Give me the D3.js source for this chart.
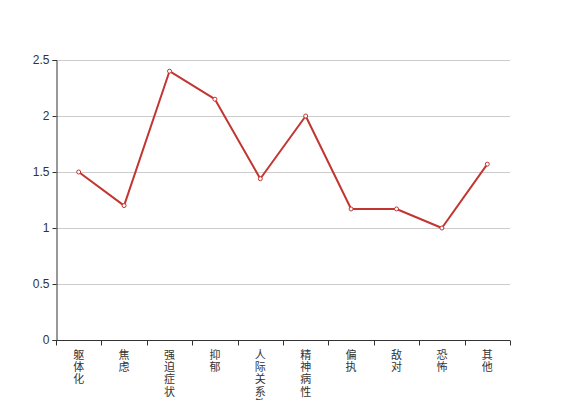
<!DOCTYPE html>
<html><head><meta charset="utf-8">
<script src="https://cdn.jsdelivr.net/npm/d3@7/dist/d3.min.js"></script>
<style>body{margin:0;background:#fff}svg{display:block}</style>
</head><body>
<script>
const categories = ["躯体化","焦虑","强迫症状","抑郁","人际关系敏感","精神病性","偏执","敌对","恐怖","其他"];
const values = [1.5, 1.2, 2.4, 2.15, 1.44, 2.0, 1.17, 1.17, 1.0, 1.57];
const yTicks = [0, 0.5, 1, 1.5, 2, 2.5];

const W = 567, H = 400;
const m = {left: 56, right: 57, top: 60, bottom: 60};
const svg = d3.select("body").append("svg").attr("width", W).attr("height", H);

const x = d3.scaleBand().domain(categories).range([m.left, W - m.right]);
const y = d3.scaleLinear().domain([0, 2.5]).range([H - m.bottom, m.top]);

// grid
svg.append("g").selectAll("line").data(yTicks.filter(d => d > 0)).join("line")
  .attr("x1", m.left).attr("x2", W - m.right)
  .attr("y1", d => y(d) + 0.5).attr("y2", d => y(d) + 0.5)
  .attr("stroke", "#ccc").attr("stroke-width", 1);

// y axis
const ya = svg.append("g").attr("transform", `translate(${m.left + 0.5},0)`)
  .call(d3.axisLeft(y).tickValues(yTicks).tickFormat(d => d).tickSizeOuter(0).tickSize(4).tickPadding(3));
ya.select(".domain").attr("stroke", "#333");
ya.selectAll(".tick line").attr("stroke", "#333");
ya.selectAll("text").attr("fill", "#333").style("font-family", "'Liberation Sans', Arial, sans-serif").style("font-size", "12px");

// x axis
const xa = svg.append("g").attr("transform", `translate(0,${H - m.bottom + 0.5})`);
xa.append("line").attr("x1", m.left).attr("x2", W - m.right).attr("stroke", "#333");
const bounds = categories.map(c => x(c)).concat([W - m.right]);
xa.selectAll("line.tk").data(bounds).join("line").attr("class", "tk")
  .attr("x1", d => Math.round(d) + 0.5).attr("x2", d => Math.round(d) + 0.5)
  .attr("y1", 0).attr("y2", 5).attr("stroke", "#333");
const lbl = xa.selectAll("text.lb").data(categories).join("text").attr("class", "lb")
  .attr("x", d => x(d) + x.bandwidth() / 2)
  .attr("y", 18)
  .attr("text-anchor", "middle")
  .attr("fill", "#333")
  .style("font-family", "'Noto Sans CJK SC', sans-serif")
  .style("font-size", "11px");
lbl.each(function(d) {
  const t = d3.select(this);
  Array.from(d).forEach((ch, i) => {
    t.append("tspan").attr("x", x(d) + x.bandwidth() / 2).attr("dy", i === 0 ? 0 : 12.4).text(ch);
  });
});

// line
const cx = d => x(d) + x.bandwidth() / 2;
svg.append("path").datum(values)
  .attr("fill", "none").attr("stroke", "#c23531").attr("stroke-width", 2)
  .attr("stroke-linejoin", "round")
  .attr("d", d3.line().x((d, i) => cx(categories[i])).y(d => y(d)));

svg.append("g").selectAll("circle").data(values).join("circle")
  .attr("cx", (d, i) => cx(categories[i])).attr("cy", d => y(d)).attr("r", 2)
  .attr("fill", "#fff").attr("stroke", "#c23531").attr("stroke-width", 1);
</script>
</body></html>
